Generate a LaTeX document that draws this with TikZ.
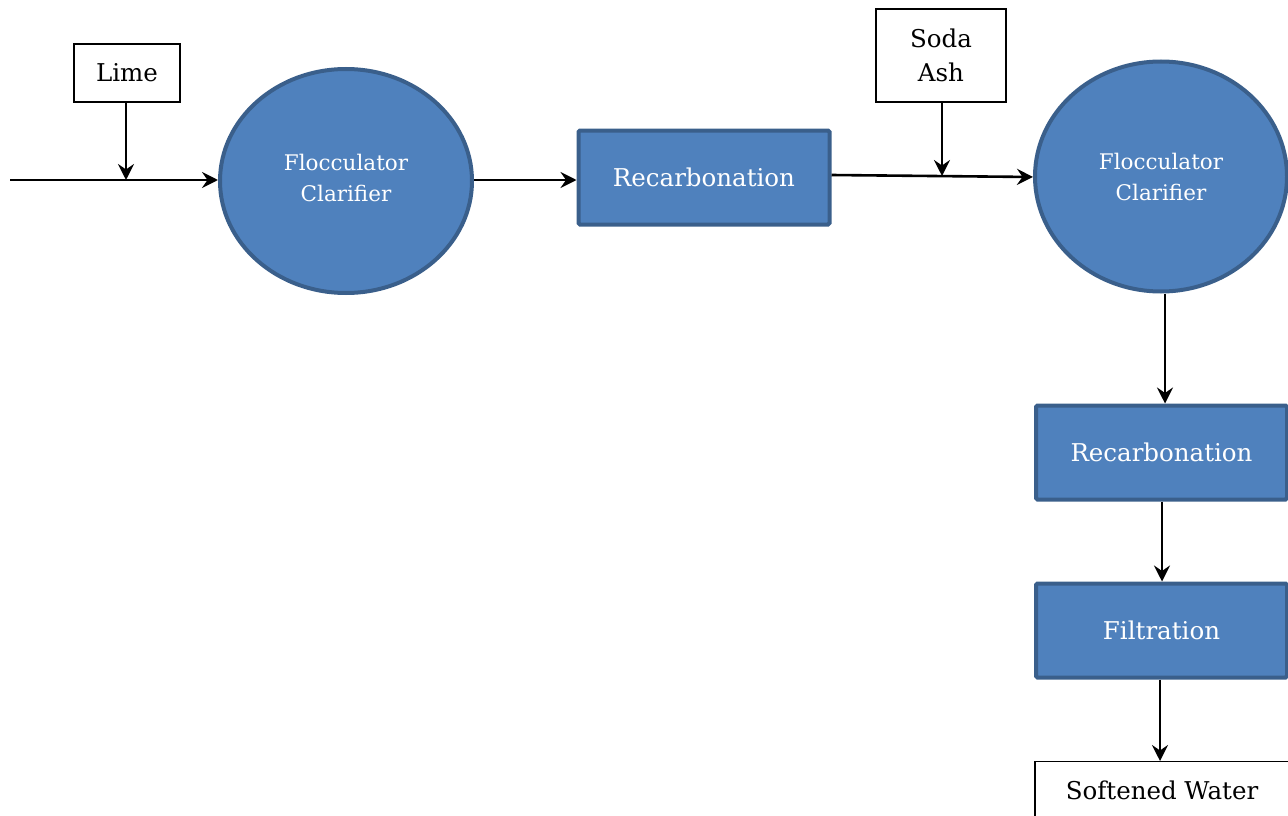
\documentclass[tikz,border=0pt]{standalone}
\usepackage{fontspec}
\setmainfont{DejaVu Serif}
\usetikzlibrary{arrows.meta,shapes.geometric}
\definecolor{procfill}{HTML}{4F81BD}
\definecolor{procedge}{HTML}{3A5F8B}
\tikzset{
  unit/.style={fill=procfill, draw=procedge, line width=4pt, text=white, inner sep=0pt},
  tank/.style={unit, ellipse, minimum width=252pt, minimum height=224pt, font=\fontsize{21.5}{31}\selectfont, align=center},
  stage/.style={unit, rectangle, rounded corners=1.5pt, minimum width=251pt, minimum height=94pt, font=\fontsize{24.5}{30}\selectfont},
  feed/.style={draw=black, line width=1.2pt, fill=white, align=center, font=\fontsize{24.5}{34}\selectfont},
  flow/.style={draw=black, line width=2.6pt, -{Stealth[length=16pt,width=16pt,inset=5.5pt]}},
}
\begin{document}
\begin{tikzpicture}[x=1pt,y=-1pt]
  \useasboundingbox (0,0) rectangle (1288,816);
  \clip (0,0) rectangle (1288,816);

  % chemical feeds
  \node[feed, minimum width=106pt, minimum height=58pt] (lime) at (127,73) {Lime};
  \node[feed, minimum width=130pt, minimum height=93pt, inner sep=0pt] (soda) at (941,55.5) {Soda\\Ash};

  % main treatment units
  \node[tank] (floc1) at (346,181) {};
  \node[text=white, align=center, font=\fontsize{21.5}{31}\selectfont] (floc1label) at (346,177.5) {Flocculator\\Clarifier};
  \node[stage] (rec1) at (704,177.5) {Recarbonation};
  \node[tank, minimum height=230pt] (floc2) at (1161,176.5) {};
  \node[text=white, align=center, font=\fontsize{21.5}{31}\selectfont] (floc2label) at (1161,176.5) {Flocculator\\Clarifier};
  \node[stage] (rec2) at (1161.5,452.5) {Recarbonation};
  \node[stage] (filt) at (1161.5,630.5) {Filtration};
  \node[feed, minimum width=254pt, minimum height=70pt, anchor=north] (soft) at (1162,761) {};
  \node[font=\fontsize{24.5}{30}\selectfont] (softlabel) at (1162,790) {Softened Water};

  % flow path
  \coordinate (inlet) at (10,180);
  \coordinate (limejoin) at (126,180);
  \coordinate (sodajoin) at (942,176);
  \draw[flow] (inlet) -- (floc1.west |- inlet);
  \draw[flow] (lime.south -| limejoin) -- (limejoin);
  \draw[flow] (floc1.east |- 0,180) -- (rec1.west |- 0,180);
  \draw[flow] (rec1.east |- 0,175) -- (floc2.west |- 0,177);
  \draw[flow] (soda.south -| sodajoin) -- (sodajoin);
  \draw[flow] (floc2.south -| 1165,0) -- (rec2.north -| 1165,0);
  \draw[flow] (rec2.south -| 1162,0) -- (filt.north -| 1162,0);
  \draw[flow] (filt.south -| 1160,0) -- (soft.north -| 1160,0);
\end{tikzpicture}
\end{document}
